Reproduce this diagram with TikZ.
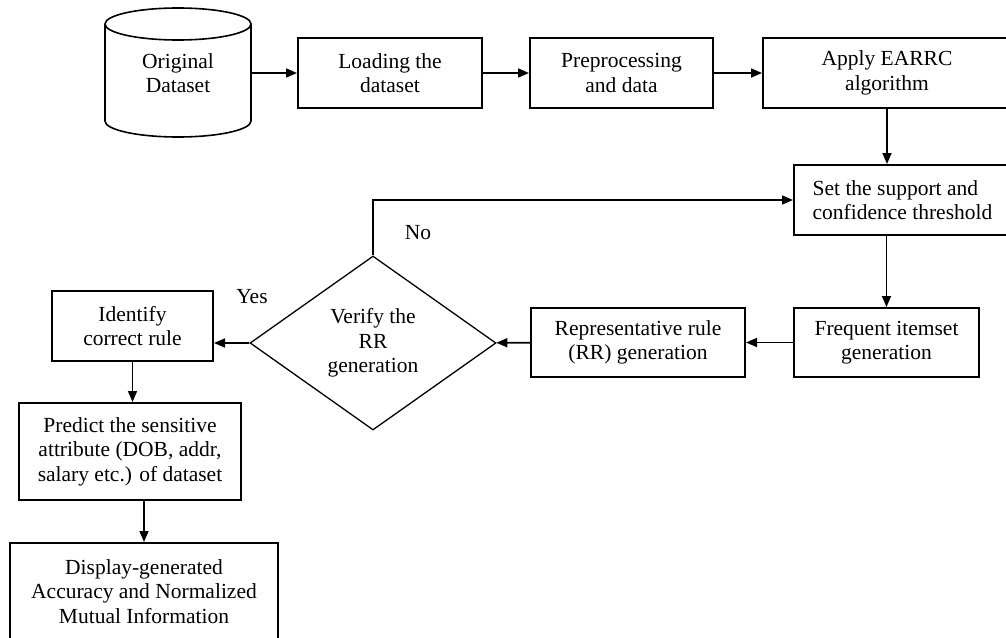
\documentclass[tikz,border=0pt]{standalone}
\usepackage{fontspec}
\setmainfont{Liberation Serif}
\usetikzlibrary{positioning,shapes.geometric,arrows.meta}

\begin{document}
\begin{tikzpicture}[x=1pt, y=-1pt,
  font=\fontsize{21.5}{24.5}\selectfont,
  box/.style={draw, line width=2pt, align=center, inner sep=2pt, minimum height=70pt},
  flow/.style={-{Triangle[length=11pt,width=9pt]}, line width=1.6pt},
  lab/.style={inner sep=1pt}]
  \useasboundingbox (0,0) rectangle (1006,637);
  \clip (0,0) rectangle (1006,637);
  % data store
  \draw[line width=1.6pt] (105,24) -- (105,121)
    arc[start angle=180, end angle=0, x radius=73, y radius=16] -- (251,24);
  \draw[line width=1.6pt] (178,24) ellipse[x radius=73, y radius=16];
  \node[minimum width=146pt, minimum height=60pt, inner sep=0pt, align=center] (orig) at (178,73) {Original\\Dataset};
  % top row
  \node[box, minimum width=184pt] (load) at (390,73) {Loading the\\dataset};
  \node[box, minimum width=183pt] (prep) at (621.5,73) {Preprocessing\\and data};
  \node[box, minimum width=248pt] (earrc) at (887,73) {Apply EARRC\\algorithm};
  \node[box, minimum width=217pt, align=left] (thres) at (902.5,200) {Set the support and\\confidence threshold};
  % middle row
  \node[box, minimum width=185pt, minimum height=69pt] (freq) at (886.5,342.5) {Frequent itemset\\generation};
  \node[box, minimum width=214pt, minimum height=69pt] (rrgen) at (638,342.5) {Representative rule\\(RR) generation};
  \node[diamond, draw, line width=1.3pt, minimum width=246pt, minimum height=174pt, inner sep=0pt, align=center] (verify) at (373,343) {Verify the\\RR\\generation};
  \node[box, minimum width=161pt] (ident) at (132.5,326) {Identify\\correct rule};
  % left column
  \node[box, minimum width=222pt, minimum height=97pt] (pred) at (130,451.5) {Predict the sensitive\\attribute (DOB, addr,\\salary etc.) of dataset};
  \node[box, minimum width=268pt, minimum height=97pt] (disp) at (144,591.5) {Display-generated\\Accuracy and Normalized\\Mutual Information};
  \node[lab] (no) at (418,233) {No};
  \node[lab] (yes) at (252,297) {Yes};
  % connectors
  \draw[flow] (orig) -- (load);
  \draw[flow] (load) -- (prep);
  \draw[flow] (prep) -- (earrc);
  \draw[flow] (earrc.south) -- (earrc.south |- thres.north);
  \draw[flow] (freq.north |- thres.south) -- (freq.north);
  \draw[flow] (freq) -- (rrgen);
  \draw[flow] (rrgen) -- (verify);
  \draw[flow] (verify.west) -- (verify.west -| ident.east);
  \draw[flow] (verify.north) |- (thres.west);
  \draw[flow] (ident.south) -- (ident.south |- pred.north);
  \draw[flow] (disp.north |- pred.south) -- (disp.north);
\end{tikzpicture}
\end{document}
